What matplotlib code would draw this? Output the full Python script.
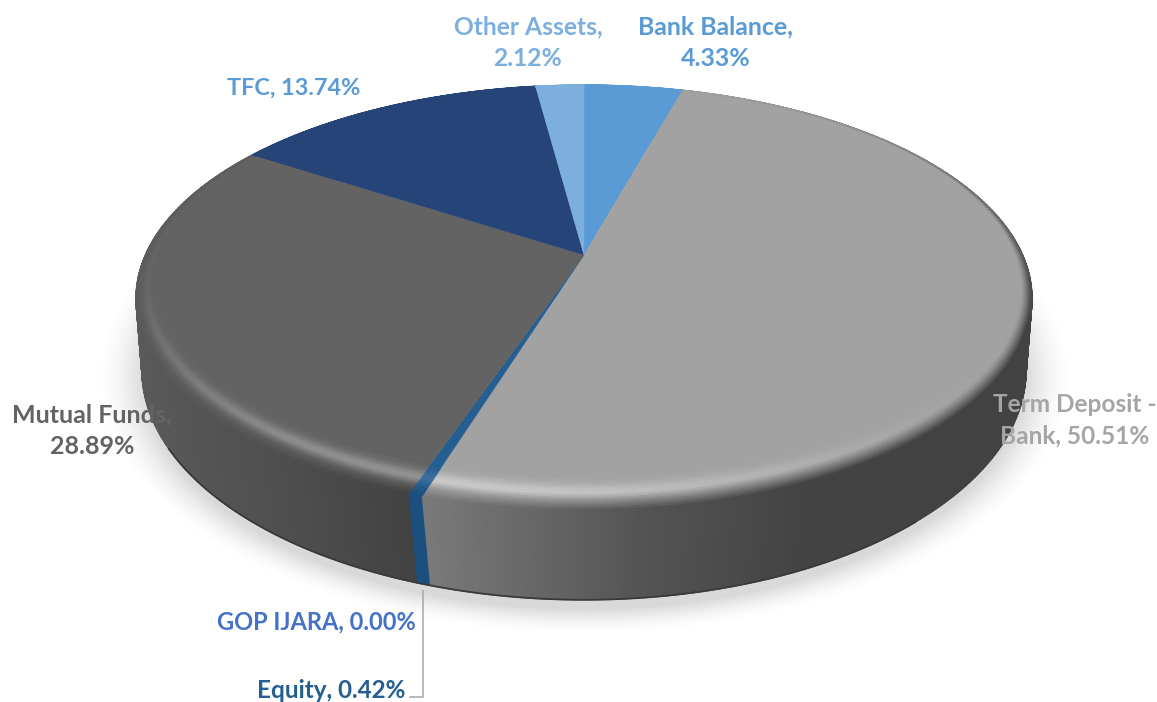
import numpy as np
import matplotlib
matplotlib.use("Agg")
import matplotlib.pyplot as plt
from matplotlib.collections import PolyCollection
from matplotlib.colors import to_rgb

names = ["Bank Balance", "Term Deposit - Bank", "GOP IJARA", "Equity", "Mutual Funds", "TFC", "Other Assets"]
values = [4.33, 50.51, 0.00, 0.42, 28.89, 13.74, 2.12]
colors = ["#5B9BD5", "#A2A2A2", "#4472C4", "#255E91", "#636363", "#264478", "#7CAFDD"]
rim_glow = [0.0, 0.42, 0.0, 0.10, 0.30, 0.0, 0.0]

label_text = ["Bank Balance,\n4.33%", "Term Deposit -\nBank, 50.51%", "GOP IJARA, 0.00%", "Equity, 0.42%",
              "Mutual Funds,\n28.89%", "TFC, 13.74%", "Other Assets,\n2.12%"]
label_colors = ["#5B9BD5", "#A5A5A5", "#4472C4", "#255E91", "#636363", "#5B9BD5", "#7CAFDD"]
label_sizes = [17.9, 17.6, 17.0, 17.5, 18.0, 16.9, 17.7]
label_pos = [(716, 43, "center"), (1075, 420, "center"), (416, 622, "right"), (405, 690, "right"),
             (92, 431, "center"), (294, 88, "center"), (528, 43, "center")]

# pie is a circle seen in perspective, everything below works in pixels
CX = 584
TOP = dict(apex=255, a=438.6, b=204.6, k=0.2037)
BOTTOM = dict(apex=332, a=436, b=223.7, k=0.1646)


def project(theta, r, d):
    x = r * np.sin(theta)
    y = r * np.cos(theta)
    w = 1 + d["k"] * y
    return CX + d["a"] * x / w, d["apex"] - d["b"] * y / w


def wall_color(i, px):
    if names[i] == "Term Deposit - Bank":
        g = np.interp(px, [428, 640, 800, 1032], [0x7a, 0x54, 0x43, 0x42]) / 255
        return (g, g, g)
    if names[i] == "Mutual Funds":
        g = np.interp(px, [137, 300, 415], [0x5a, 0x4e, 0x42]) / 255
        return (g, g, g)
    if names[i] == "Equity":
        return to_rgb("#1B4F7E")
    return to_rgb(colors[i])


fig = plt.figure(figsize=(11.57, 7.02), dpi=100)
ax = fig.add_axes([0, 0, 1, 1])

# soft shadow under the disc
xx, yy = np.meshgrid(np.arange(0, 1157, 2), np.arange(0, 702, 2))
f = np.sqrt(((xx - CX) / 440) ** 2 + ((yy - 376) / 232) ** 2)
shade = 1 - 0.15 * np.clip((1.11 - f) / 0.11, 0, 1) ** 1.6
ax.imshow(shade, cmap="gray", vmin=0, vmax=1, extent=[0, 1157, 702, 0], zorder=0, aspect="auto")

edges = 2 * np.pi * np.concatenate([[0], np.cumsum(values)]) / np.sum(values)

# side wall
for i in range(len(values)):
    if values[i] == 0:
        continue
    n = max(int((edges[i + 1] - edges[i]) / np.radians(0.5)), 2)
    th = np.linspace(edges[i], edges[i + 1], n + 1)
    xt, yt = project(th, 1, TOP)
    xb, yb = project(th, 1, BOTTOM)
    polys = []
    cols = []
    for j in range(n):
        polys.append([(xt[j], yt[j]), (xt[j + 1], yt[j + 1]), (xb[j + 1], yb[j + 1]), (xb[j], yb[j])])
        cols.append(wall_color(i, (xb[j] + xb[j + 1]) / 2))
    ax.add_collection(PolyCollection(polys, facecolors=cols, edgecolors="face", linewidths=1.0, zorder=2))

th = np.linspace(edges[2] * 0.7, 2 * np.pi * 0.67, 300)
xb, yb = project(th, 1, BOTTOM)
ax.plot(xb, yb, color="#3a3a3a", lw=1.3, zorder=2.5)

# top face and bevelled rim
steps = np.linspace(0, 1, 15)
for i in range(len(values)):
    if values[i] == 0:
        continue
    n = max(int((edges[i + 1] - edges[i]) / np.radians(0.5)), 2)
    th = np.linspace(edges[i], edges[i + 1], n + 1)
    front = ((1 - np.cos(th)) / 2) ** 2
    width = 0.006 + 0.10 * front
    xo, yo = project(th, 1 - width, TOP)
    ax.fill(np.r_[CX, xo], np.r_[TOP["apex"], yo], facecolor=colors[i], edgecolor=colors[i], lw=0.3, zorder=3)

    base = np.array(to_rgb(colors[i]))
    polys = []
    cols = []
    for j in range(n):
        tm = (th[j] + th[j + 1]) / 2
        w = 0.006 + 0.10 * ((1 - np.cos(tm)) / 2) ** 2
        px, _ = project(tm, 1, TOP)
        wc = np.array(wall_color(i, px))
        glow = rim_glow[i] * max(0, np.cos(tm - np.radians(200))) ** 3
        dark = min(1, 1.5 * (1 - np.cos(tm)) / 2)
        for s0, s1 in zip(steps[:-1], steps[1:]):
            r0 = 1 - w + w * s0
            r1 = 1 - w + w * s1
            x0, y0 = project(np.array([th[j], th[j + 1]]), r0, TOP)
            x1, y1 = project(np.array([th[j], th[j + 1]]), r1, TOP)
            polys.append([(x0[0], y0[0]), (x0[1], y0[1]), (x1[1], y1[1]), (x1[0], y1[0])])
            t = (s0 + s1) / 2
            c = base + (1 - base) * glow * np.exp(-((t - 0.42) / 0.24) ** 2)
            m = np.clip((t - 0.45) / 0.5, 0, 1) ** 1.3 * dark
            cols.append(c * (1 - m) + wc * m)
    ax.add_collection(PolyCollection(polys, facecolors=cols, edgecolors="face", linewidths=0.7, zorder=4))

# leader line for Equity
lead_x = 0.5 * (edges[3] + edges[4])
lx, ly = project(lead_x, 1, BOTTOM)
ax.plot([lx, lx, lx - 13], [ly + 7, 697, 697], color="#A6A6A6", lw=1.1, zorder=5)

for i in range(len(label_text)):
    x, y, ha = label_pos[i]
    ax.text(x, y, label_text[i], color=label_colors[i], ha=ha, va="center", multialignment="center",
            fontfamily="Lato", fontweight="bold", fontsize=label_sizes[i], linespacing=1.43, zorder=6)

ax.set_xlim(0, 1157)
ax.set_ylim(702, 0)
ax.axis("off")
fig.savefig("out.png", dpi=100)
